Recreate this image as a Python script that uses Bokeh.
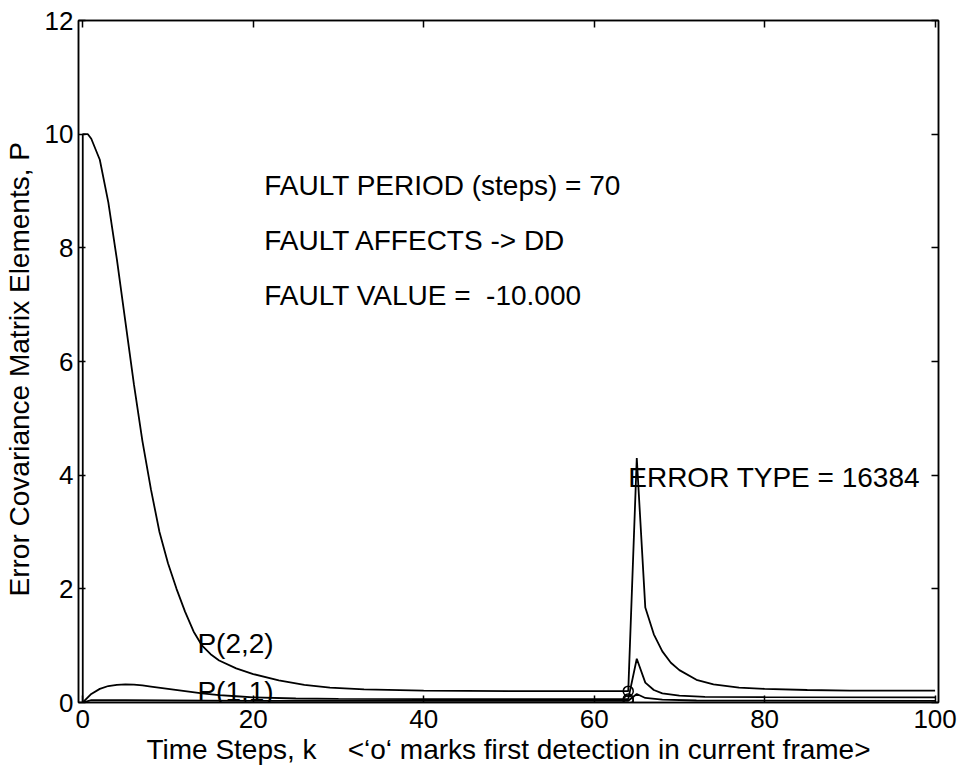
from bokeh.plotting import figure
from bokeh.models import Range1d, LinearAxis, Label, FixedTicker
from bokeh.embed import file_html
from bokeh.resources import INLINE

# ---- data ----
k_p22 = [0, 0, 0.6, 1, 2, 3, 4, 5, 6, 7, 8, 9, 10, 11, 12, 13, 14, 15, 16, 18, 20, 23, 26, 29, 33,
         40, 50, 64, 65, 66, 67, 68, 69, 70, 72, 74, 77, 80, 85, 90, 100]
p22 = [0, 10, 10, 9.92, 9.55, 8.8, 7.8, 6.7, 5.6, 4.6, 3.75, 3.0, 2.45, 2.0, 1.6, 1.25, 1.0, 0.85, 0.74,
       0.6, 0.5, 0.39, 0.31, 0.26, 0.23, 0.21, 0.2, 0.2, 4.3, 1.67, 1.2, 0.9, 0.7, 0.57, 0.4, 0.32,
       0.26, 0.24, 0.22, 0.21, 0.21]

k_p12 = [0, 1, 2, 3, 4, 5, 6, 7, 8, 10, 12, 14, 16, 18, 20, 25, 30, 40, 64, 65, 66, 67, 68, 70,
         73, 80, 100]
p12 = [0, 0.15, 0.24, 0.29, 0.31, 0.32, 0.315, 0.3, 0.28, 0.24, 0.2, 0.16, 0.13, 0.11, 0.09, 0.07,
       0.065, 0.06, 0.06, 0.77, 0.35, 0.22, 0.16, 0.12, 0.1, 0.095, 0.09]

k_p11 = [0, 1, 5, 20, 64, 65, 66, 68, 72, 100]
p11 = [0, 0.04, 0.04, 0.03, 0.03, 0.15, 0.08, 0.05, 0.035, 0.03]

det_k = [64, 64, 64]
det_val = [0.2, 0.06, 0.03]

x_ticks = [0, 20, 40, 60, 80, 100]
y_ticks = [0, 2, 4, 6, 8, 10, 12]

FONT = "Liberation Sans"
TICK_FS = "26px"
TEXT_FS = "28px"

p = figure(width=965, height=774, output_backend="svg", toolbar_location=None,
           x_range=Range1d(-0.5, 100.4), y_range=Range1d(0, 12),
           min_border_left=76, min_border_right=27, min_border_top=20,
           min_border_bottom=72)
p.background_fill_color = "white"
p.border_fill_color = "white"
p.grid.visible = False
p.outline_line_color = "black"
p.outline_line_width = 1.5

for ax in (p.xaxis[0], p.yaxis[0]):
    ax.axis_line_color = "black"
    ax.axis_line_width = 1.5
    ax.major_tick_in = 7
    ax.major_tick_out = 0
    ax.major_tick_line_width = 1.5
    ax.minor_tick_line_color = None
    ax.major_label_text_font = FONT
    ax.major_label_text_font_size = TICK_FS
    ax.major_label_text_color = "black"
    ax.axis_label_text_font = FONT
    ax.axis_label_text_font_size = TEXT_FS
    ax.axis_label_text_font_style = "normal"
    ax.axis_label_text_color = "black"
p.xaxis[0].ticker = FixedTicker(ticks=x_ticks)
p.yaxis[0].ticker = FixedTicker(ticks=y_ticks)
p.xaxis[0].major_label_standoff = 7
p.yaxis[0].major_label_standoff = 5
p.xaxis[0].axis_label = "Time Steps, k\u00a0\u00a0\u00a0\u00a0<\u2018o\u2018 marks first detection in current frame>"
p.xaxis[0].axis_label_standoff = 3
p.yaxis[0].axis_label = "Error Covariance Matrix Elements, P\u00a0\u00a0"
p.yaxis[0].axis_label_standoff = 7

top = LinearAxis(ticker=FixedTicker(ticks=x_ticks))
right = LinearAxis(ticker=FixedTicker(ticks=y_ticks))
for ax in (top, right):
    ax.axis_line_color = "black"
    ax.axis_line_width = 1.5
    ax.major_tick_in = 7
    ax.major_tick_out = 0
    ax.major_tick_line_width = 1.5
    ax.minor_tick_line_color = None
    ax.major_label_text_font_size = "1px"
    ax.major_label_text_color = None
    ax.major_label_standoff = 0
p.add_layout(top, "above")
p.add_layout(right, "right")

p.line(k_p22, p22, line_color="black", line_width=1.8)
p.line(k_p12, p12, line_color="black", line_width=1.8)
p.line(k_p11, p11, line_color="black", line_width=1.8)
p.scatter(det_k, det_val, marker="circle", size=10, fill_color=None,
          line_color="black", line_width=1.5)

texts = [
    (21.3, 9.1, "FAULT PERIOD (steps) = 70"),
    (21.3, 8.13, "FAULT AFFECTS -> DD"),
    (21.3, 7.16, "FAULT VALUE =  -10.000"),
    (64.0, 3.96, "ERROR TYPE = 16384"),
    (13.45, 1.04, "P(2,2)"),
    (13.45, 0.2, "P(1,1)"),
]
for x, y, t in texts:
    p.add_layout(Label(x=x, y=y, text=t.replace("  ", "\u00a0\u00a0"), text_font=FONT,
                       text_font_size=TEXT_FS, text_color="black",
                       text_align="left", text_baseline="middle"))

open("out.html", "w").write(file_html(p, INLINE))
